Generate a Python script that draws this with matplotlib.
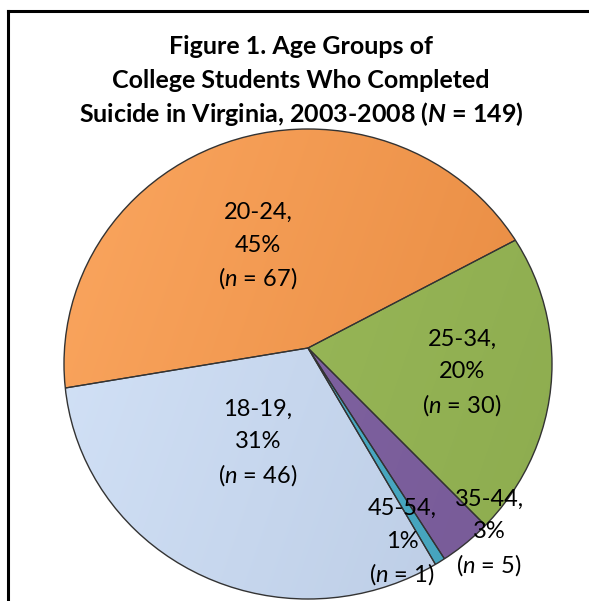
import numpy as np
import matplotlib.pyplot as plt
from matplotlib.patches import Ellipse, PathPatch
from matplotlib.path import Path
from matplotlib.colors import to_rgb

plt.rcParams['font.family'] = ['Lato', 'DejaVu Sans']
plt.rcParams['mathtext.fontset'] = 'custom'
plt.rcParams['mathtext.rm'] = 'Lato'
plt.rcParams['mathtext.it'] = 'Lato:italic'
plt.rcParams['mathtext.bf'] = 'Lato:bold'
plt.rcParams['mathtext.bfit'] = 'Lato:italic:bold'

# data
groups = ['18-19', '20-24', '25-34', '35-44', '45-54']
counts = [46, 67, 30, 5, 1]
percents = [31, 45, 20, 3, 1]
total = 149

# light / dark ends of each slice gradient
light = ['#d4e3f8', '#fba65f', '#9ebd5c', '#8467a6', '#4eb0ca']
dark = ['#b9cae3', '#e6893f', '#8dac4f', '#775a97', '#44a2bb']

W, H = 589, 601
fig = plt.figure(figsize=(W / 100, H / 100), dpi=100)
ax = fig.add_axes([0, 0, 1, 1])

def py(y):
    return H - y

vertex = (308, py(348))
ell_c = (308, py(364))
ell_w, ell_h = 488, 470

wedges, _ = ax.pie(counts, startangle=-59.5, counterclock=False, radius=270,
                   center=vertex,
                   wedgeprops=dict(facecolor='none', edgecolor='#333333',
                                   linewidth=0.9, zorder=2))

# gradient fill for every wedge
x0, x1 = ell_c[0] - ell_w / 2, ell_c[0] + ell_w / 2
y0, y1 = ell_c[1] - ell_h / 2, ell_c[1] + ell_h / 2
gx, gy = np.meshgrid(np.linspace(0, 1, 200), np.linspace(0, 1, 200))
t = np.clip(0.75 * gx + 0.25 * (1 - gy), 0, 1)[..., None]
for w, c1, c2 in zip(wedges, light, dark):
    img = (1 - t) * np.array(to_rgb(c1)) + t * np.array(to_rgb(c2))
    im = ax.imshow(img, extent=(x0, x1, y0, y1), origin='lower',
                   interpolation='bilinear', zorder=1)
    im.set_clip_path(w)
ax.set_xlim(0, W)
ax.set_ylim(0, H)
ax.set_aspect('auto')
ax.axis('off')

# white mask outside the oval outline
outer = Path([(-20, -20), (W + 20, -20), (W + 20, H + 20), (-20, H + 20), (-20, -20)],
             closed=True)
th = np.linspace(0, -2 * np.pi, 361)
hole = Path(np.column_stack([ell_c[0] + ell_w / 2 * np.cos(th),
                             ell_c[1] + ell_h / 2 * np.sin(th)]), closed=True)
ax.add_patch(PathPatch(Path.make_compound_path(outer, hole), facecolor='white',
                       edgecolor='none', zorder=3))
ax.add_patch(Ellipse(ell_c, ell_w, ell_h, facecolor='none', edgecolor='#333333',
                     linewidth=1.0, zorder=4))

# frame (top and left)
ax.plot([7.5, W + 5], [py(11), py(11)], color='black', lw=2.2, zorder=6,
        solid_capstyle='projecting')
ax.plot([7.5, 7.5], [py(11), -5], color='black', lw=2.2, zorder=6)

# title
title_lines = ['Figure 1. Age Groups of',
               'College Students Who Completed',
               'Suicide in Virginia, 2003-2008 (' + r'$\mathbfit{N}$' + ' = %d)' % total]
for line, yy in zip(title_lines, [47, 81, 114]):
    ax.text(301, py(yy), line, ha='center', va='center', fontsize=18,
            fontweight='bold', color='black', zorder=7)

# data labels
label_xy = [(258, 442), (258, 245), (462, 372), (489, 532), (402, 541)]
for g, p, n, (lx, ly) in zip(groups, percents, counts, label_xy):
    ax.text(lx, py(ly - 33), g + ',', ha='center', va='center', fontsize=17, zorder=7)
    ax.text(lx, py(ly), '%d%%' % p, ha='center', va='center', fontsize=17, zorder=7)
    ax.text(lx, py(ly + 33), '(' + r'$\it{n}$' + ' = %d)' % n, ha='center',
            va='center', fontsize=17, zorder=7)

fig.savefig('out.png', dpi=100, facecolor='white')
